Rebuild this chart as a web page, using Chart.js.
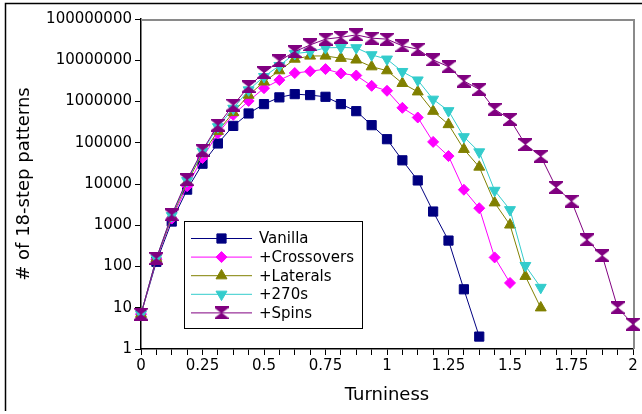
<!DOCTYPE html>
<html>
<head>
<meta charset="utf-8">
<script src="https://cdn.jsdelivr.net/npm/chart.js@4.4.1/dist/chart.umd.min.js"></script>
<style>
  html, body { margin: 0; padding: 0; background: #fff; }
  #wrap { width: 642px; height: 414px; }
</style>
</head>
<body>
<div id="wrap"><canvas id="chart" width="642" height="414"></canvas></div>
<script>
const turniness = [0, 0.0625, 0.125, 0.1875, 0.25, 0.3125, 0.375, 0.4375, 0.5, 0.5625, 0.625, 0.6875,
  0.75, 0.8125, 0.875, 0.9375, 1, 1.0625, 1.125, 1.1875, 1.25, 1.3125, 1.375, 1.4375, 1.5, 1.5625,
  1.625, 1.6875, 1.75, 1.8125, 1.875, 1.9375, 2];
const xTickLabels = ['0', '0.25', '0.5', '0.75', '1', '1.25', '1.5', '1.75', '2'];
const yTickValues = [1, 10, 100, 1000, 10000, 100000, 1000000, 10000000, 100000000];

const vanilla = [7, 130, 1230, 7300, 31000, 96000, 256000, 513000, 865000, 1260000, 1510000, 1430000,
  1300000, 865000, 583000, 267000, 122000, 37500, 12200, 2150, 425, 28, 2];
const crossovers = [7, 150, 1450, 8800, 42700, 170000, 475000, 1030000, 2100000, 3300000, 4900000, 5400000,
  6100000, 4800000, 4270000, 2400000, 1820000, 703000, 410000, 105000, 47500, 7260, 2590, 166, 40];
const laterals = [7, 155, 1550, 11000, 54600, 190000, 542000, 1430000, 3000000, 5600000, 10700000, 12700000,
  12700000, 11200000, 10200000, 6980000, 5600000, 2760000, 1720000, 583000, 277000, 69500, 25800, 3510, 1020, 58, 10];
const turns270 = [7, 160, 1700, 12000, 62000, 243000, 680000, 1900000, 4000000, 7400000, 14500000, 16000000,
  20000000, 20400000, 20000000, 13500000, 10600000, 5300000, 3300000, 1130000, 594000, 139000, 59700, 6980, 2370, 105, 31];
const spins = [7, 157, 1790, 12700, 65700, 267000, 817000, 2300000, 5000000, 9600000, 16200000, 23500000,
  32500000, 36000000, 41200000, 34300000, 32500000, 22300000, 18500000, 10200000, 6980000, 3130000, 1970000,
  646000, 369000, 91000, 47000, 8260, 3840, 441, 183, 10, 4];

const FONT = 'DejaVu Sans';

// hourglass marker for the +Spins series
function hourglass(color, w, h) {
  const c = document.createElement('canvas');
  c.width = w; c.height = h;
  const g = c.getContext('2d');
  g.fillStyle = color;
  g.beginPath();
  g.moveTo(0, 0); g.lineTo(w, 0); g.lineTo(w, 1.5);
  g.lineTo(w / 2 + 0.5, h / 2);
  g.lineTo(w, h - 1.5); g.lineTo(w, h); g.lineTo(0, h); g.lineTo(0, h - 1.5);
  g.lineTo(w / 2 - 0.5, h / 2);
  g.lineTo(0, 1.5);
  g.closePath();
  g.fill();
  return c;
}

function toPoints(values) {
  return values.map((v, i) => ({ x: turniness[i], y: v }));
}

function series(label, values, color, style, radius, rotation, order) {
  return {
    label,
    data: toPoints(values),
    borderColor: color,
    backgroundColor: color,
    borderWidth: 1,
    pointStyle: style,
    pointRadius: radius,
    pointRotation: rotation,
    pointBorderWidth: 1,
    pointBorderColor: color,
    pointBackgroundColor: color,
    tension: 0,
    clip: false,
    order,
  };
}

const datasets = [
  series('Vanilla', vanilla, '#000080', 'rect', 6.5, 0, 4),
  series('+Crossovers', crossovers, '#ff00ff', 'rectRot', 5.5, 0, 3),
  series('+Laterals', laterals, '#808000', 'triangle', 6.3, 0, 2),
  series('+270s', turns270, '#33cccc', 'triangle', 6.3, 180, 1),
  series('+Spins', spins, '#800080', hourglass('#800080', 14, 13), 7, 0, 0),
];

const frame = {
  id: 'frame',
  beforeDatasetsDraw(chart) {
    const { ctx, chartArea: a } = chart;
    ctx.save();
    ctx.strokeStyle = '#8a8a8a';
    ctx.lineWidth = 2;
    ctx.beginPath();
    ctx.moveTo(a.left, a.top + 1);
    ctx.lineTo(a.right + 1, a.top + 1);
    ctx.lineTo(a.right + 1, a.bottom);
    ctx.stroke();
    ctx.restore();
  },
  afterDraw(chart) {
    const { ctx } = chart;
    ctx.save();
    ctx.strokeStyle = '#000';
    ctx.lineWidth = 1.5;
    ctx.beginPath();
    ctx.moveTo(642, 3.5);
    ctx.lineTo(5.5, 3.5);
    ctx.lineTo(5.5, 411);
    ctx.stroke();

    // legend box
    const bx = 184.5, by = 221.5, bw = 178, bh = 107;
    ctx.fillStyle = '#fff';
    ctx.fillRect(bx, by, bw, bh);
    ctx.strokeStyle = '#000';
    ctx.lineWidth = 1;
    ctx.strokeRect(bx, by, bw, bh);
    ctx.font = '15px "' + FONT + '"';
    ctx.textBaseline = 'middle';
    ctx.textAlign = 'left';
    chart.data.datasets.forEach((ds, i) => {
      const y = 238.5 + i * 18.6;
      ctx.strokeStyle = ds.borderColor;
      ctx.fillStyle = ds.borderColor;
      ctx.lineWidth = 1;
      ctx.beginPath();
      ctx.moveTo(191, y);
      ctx.lineTo(252, y);
      ctx.stroke();
      Chart.helpers.drawPoint(ctx, {
        pointStyle: ds.pointStyle, radius: ds.pointRadius,
        rotation: ds.pointRotation, borderWidth: 1,
      }, 221.5, y);
      ctx.fillStyle = '#000';
      ctx.fillText(ds.label, 259, y + 1);
    });
    ctx.restore();
  },
};

new Chart(document.getElementById('chart'), {
  type: 'line',
  data: { datasets },
  options: {
    responsive: false,
    animation: false,
    layout: { padding: { top: 19, right: 9, left: 0, bottom: 0 } },
    plugins: { legend: { display: false }, tooltip: { enabled: false } },
    scales: {
      x: {
        type: 'linear',
        min: 0,
        max: 2,
        afterFit: (s) => { s.height = 65; },
        ticks: {
          stepSize: 0.0625,
          autoSkip: false,
          maxRotation: 0,
          padding: 2,
          color: '#000',
          font: { family: FONT, size: 15 },
          callback: (v) => (xTickLabels.includes(String(v)) ? String(v) : ''),
        },
        grid: { drawOnChartArea: false, tickLength: 6, color: '#000' },
        border: { color: '#000', width: 1.5 },
        title: {
          display: true, text: 'Turniness', color: '#000',
          font: { family: FONT, size: 18 }, padding: { top: 0, bottom: 8 },
        },
      },
      y: {
        type: 'logarithmic',
        min: 1,
        max: 100000000,
        afterFit: (s) => { s.width = 141; },
        afterBuildTicks: (s) => { s.ticks = yTickValues.map((v) => ({ value: v })); },
        ticks: {
          padding: 3,
          color: '#000',
          font: { family: FONT, size: 15 },
          callback: (v) => String(v),
        },
        grid: { drawOnChartArea: false, tickLength: 6, color: '#000' },
        border: { color: '#000', width: 1.5 },
        title: {
          display: true, text: '# of 18-step patterns', color: '#000',
          font: { family: FONT, size: 18 }, padding: { top: 14, bottom: 0 },
        },
      },
    },
  },
  plugins: [frame],
});
</script>
</body>
</html>
